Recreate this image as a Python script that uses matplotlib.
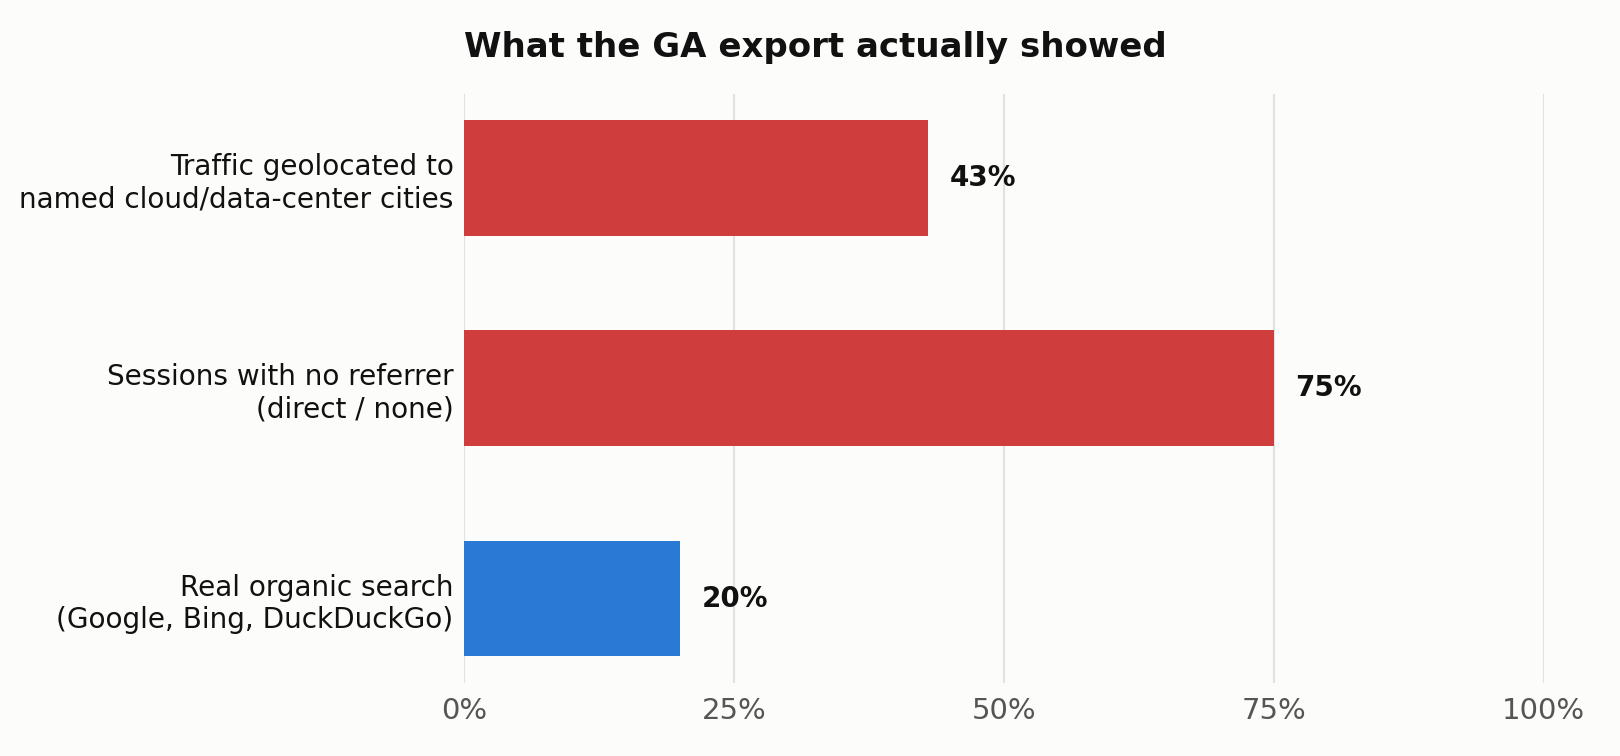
import matplotlib.pyplot as plt
from matplotlib.ticker import FuncFormatter

categories = [
    "Traffic geolocated to\nnamed cloud/data-center cities",
    "Sessions with no referrer\n(direct / none)",
    "Real organic search\n(Google, Bing, DuckDuckGo)",
]
values = [43, 75, 20]
colors = ["#cf3d3d", "#cf3d3d", "#2a7ad5"]
xticks = [0, 25, 50, 75, 100]

bg = "#fcfcfa"
fig, ax = plt.subplots(figsize=(10.8, 5.04), dpi=150)
fig.patch.set_facecolor(bg)
ax.set_facecolor(bg)
fig.subplots_adjust(left=0.2864, right=0.9528, top=0.876, bottom=0.097)

ypos = list(range(len(categories)))[::-1]
ax.barh(ypos, values, height=0.55, color=colors, zorder=2)

for y, v in zip(ypos, values):
    ax.text(v + 2, y, f"{v}%", va="center", ha="left",
            fontsize=13.3, fontweight="bold", color="#111111")

ax.set_xlim(0, 100)
ax.set_ylim(-0.4, 2.4)
ax.set_xticks(xticks)
ax.xaxis.set_major_formatter(FuncFormatter(lambda x, p: f"{x:.0f}%"))
ax.set_yticks(ypos)
ax.set_yticklabels(categories, fontsize=13.4, color="#111111")
ax.tick_params(axis="x", labelsize=14, labelcolor="#555555", length=0, pad=7)
ax.tick_params(axis="y", length=0, pad=5)
ax.grid(axis="x", color="#e2e2e2", linewidth=1, zorder=0)
for s in ax.spines.values():
    s.set_visible(False)

ax.set_title("What the GA export actually showed", loc="left",
             fontsize=16.3, fontweight="bold", pad=17.5, color="#111111")

plt.savefig("out.png", facecolor=bg)
